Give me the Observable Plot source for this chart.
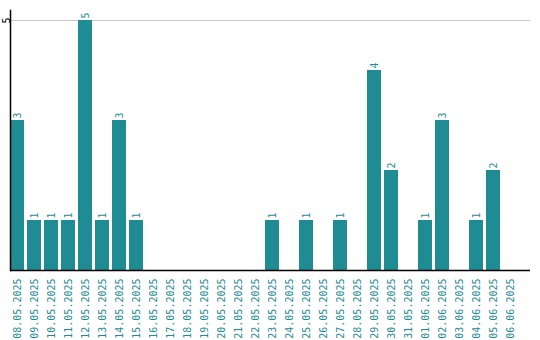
<!DOCTYPE html>
<html>
<head>
<meta charset="utf-8">
<script src="https://cdn.jsdelivr.net/npm/d3@7"></script>
<script src="https://cdn.jsdelivr.net/npm/@observablehq/plot@0.6"></script>
<style>
html,body{margin:0;padding:0;background:#fff;}
</style>
</head>
<body>
<div id="chart"></div>
<script>
const dates = ["08.05.2025","09.05.2025","10.05.2025","11.05.2025","12.05.2025","13.05.2025","14.05.2025","15.05.2025","16.05.2025","17.05.2025","18.05.2025","19.05.2025","20.05.2025","21.05.2025","22.05.2025","23.05.2025","24.05.2025","25.05.2025","26.05.2025","27.05.2025","28.05.2025","29.05.2025","30.05.2025","31.05.2025","01.06.2025","02.06.2025","03.06.2025","04.06.2025","05.06.2025","06.06.2025"];
const counts = [3,1,1,1,5,1,3,1,0,0,0,0,0,0,0,1,0,1,0,1,0,4,2,0,1,3,0,1,2,0];
const yTicks = [5];

const data = dates.map((d, i) => ({date: d, value: counts[i]}));
const teal = "#1f8b92";
const mono = "DejaVu Sans Mono";

const chart = Plot.plot({
  width: 540,
  height: 340,
  marginLeft: 10,
  marginRight: 10,
  marginTop: 10,
  marginBottom: 70,
  style: {fontFamily: mono, fontSize: "10px", background: "#fff"},
  x: {domain: dates, range: [10, 517], paddingInner: 3/17, paddingOuter: 0, align: 0},
  y: {domain: [0, 5.2], range: [270, 10]},
  marks: [
    Plot.gridY(yTicks, {stroke: "#c8c8c8", strokeOpacity: 1}),
    Plot.barY(data, {x: "date", y: "value", fill: teal}),
    Plot.text(data.filter(d => d.value > 0), {
      x: "date", y: "value", text: d => String(d.value),
      rotate: -90, textAnchor: "start", lineAnchor: "middle",
      dy: -2, fill: teal, fontFamily: mono, fontSize: 10
    }),
    Plot.axisX({tickRotate: -90, tickSize: 0, tickPadding: 8, fill: teal, fontFamily: mono, fontSize: 10, label: null}),
    Plot.axisY(yTicks, {tickSize: 0, tickPadding: 0, tickRotate: -90, tickFormat: d3.format("d"), fill: "#000", fontFamily: mono, fontSize: 10, label: null, dx: -1}),
    Plot.ruleY([0], {stroke: "#000", strokeWidth: 1.5}),
    Plot.frame({anchor: "left", stroke: "#000", strokeWidth: 1.5})
  ]
});
document.getElementById("chart").appendChild(chart);
</script>
</body>
</html>
